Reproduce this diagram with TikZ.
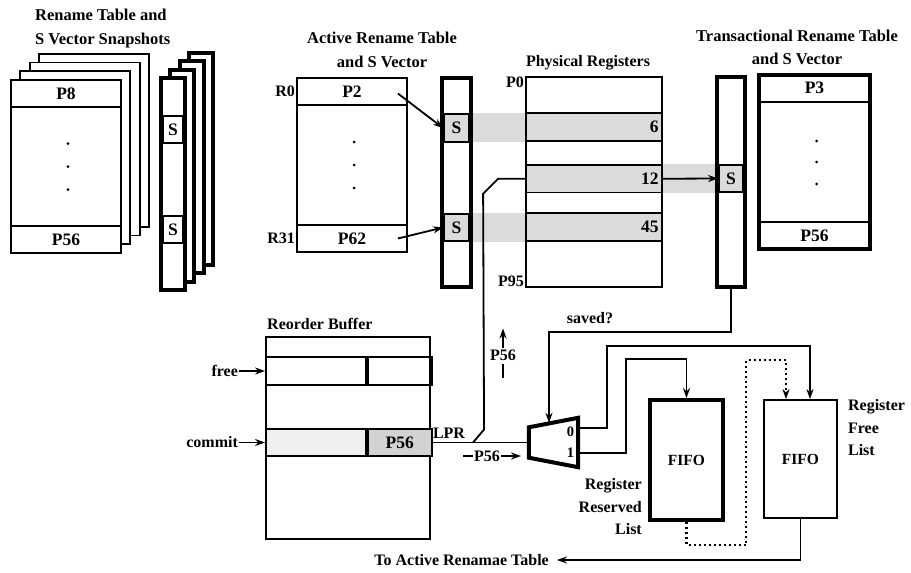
\documentclass[tikz,border=0pt]{standalone}
\usepackage{fontspec}
\setmainfont{Liberation Serif}
\usetikzlibrary{positioning,arrows.meta,backgrounds,calc}
\tikzset{
  lbl/.style={font=\bfseries\fontsize{16}{19}\selectfont, inner sep=1pt},
  ttl/.style={font=\bfseries\fontsize{16.5}{23.5}\selectfont, align=center, inner sep=0pt},
  tbl/.style={rectangle, draw, line width=1.8pt, fill=white, inner sep=0pt,
              minimum width=110pt, minimum height=173pt},
  rowc/.style={rectangle, draw, line width=1.8pt, inner sep=0pt, minimum width=110pt,
               minimum height=27pt, font=\bfseries\fontsize{17.5}{20}\selectfont},
  svec/.style={rectangle, draw, line width=4pt, fill=white, inner sep=0pt,
               minimum width=29pt, minimum height=209pt},
  scell/.style={rectangle, draw, line width=1.8pt, fill=white, inner sep=0pt,
                minimum width=25pt, minimum height=27.5pt, font=\bfseries\fontsize{17.5}{20}\selectfont},
  prow/.style={rectangle, draw, line width=1.8pt, fill=gray!28, inner sep=0pt, minimum width=136pt,
               minimum height=27.5pt, text width=129pt, align=right, font=\bfseries\fontsize{17.5}{20}\selectfont},
  fifo/.style={rectangle, draw, line width=1.8pt, fill=white, minimum width=73pt,
               minimum height=119pt, font=\bfseries\fontsize{15.5}{18}\selectfont},
  band/.style={fill=gray!28},
  wire/.style={line width=1.8pt},
  flow/.style={wire, -{Stealth[length=10pt, width=7pt]}},
  dotw/.style={line width=2.2pt, dash pattern=on 2pt off 3pt, -{Stealth[length=10pt, width=7pt]}}
}
\begin{document}
\begin{tikzpicture}[x=1pt, y=-1pt]
\useasboundingbox (0,0) rectangle (911,573);
% snapshots
\node[ttl, align=left, anchor=west] (tsn) at (35,28.5) {Rename Table and\\S Vector Snapshots};
\foreach \i in {3,2,1}
  \node[tbl] (sn\i) at ($(66,166.5)+(9.3*\i,-8.8*\i)$) {};
\node[tbl] (sn) at (66,166.5) {};
\node[rowc, anchor=north] (sn8) at (sn.north) {P8};
\node[rowc, anchor=south] (sn56) at (sn.south) {P56};
\foreach \d in {-23,0,23} \fill ($(sn.center)+(2,\d)$) circle (1.5pt);
\foreach \i in {3,2,1}
  \node[svec, minimum width=24pt, minimum height=212pt] (ss\i) at ($(173,184)+(9.3*\i,-8.3*\i)$) {};
\node[svec, minimum width=24pt, minimum height=212pt] (ss) at (173,184) {};
\node[scell, minimum width=20pt] (ssa) at (173,129.5) {S};
\node[scell, minimum width=20pt] (ssb) at (173,229.5) {S};
% active rename table
\node[ttl] (tat) at (382,50) {Active Rename Table\\and S Vector};
\node[tbl, minimum height=174pt] (at) at (352,165) {};
\node[rowc, anchor=north] (at0) at (at.north) {P2};
\node[rowc, anchor=south] (at31) at (at.south) {P62};
\foreach \d in {-23,0,23} \fill ($(at.center)+(2,\d)$) circle (1.5pt);
\node[lbl, anchor=east] (r0) at (at0.west) {R0};
\node[lbl, anchor=east] (r31) at (at31.west) {R31};
\node[svec] (sa) at (456.5,182.5) {};
\node[scell, fill=gray!28] (sa1) at (456.5,128) {S};
\node[scell, fill=gray!28] (sa2) at (456.5,227.5) {S};
% physical registers
\node[lbl] (tpr) at (588,63) {Physical Registers};
\node[tbl, minimum width=136pt, minimum height=210pt] (preg) at (594,182) {};
\node[prow, anchor=north, minimum height=28pt] (r6) at ($(preg.north)+(0,36)$) {6};
\node[prow, anchor=north] (r12) at ($(preg.north)+(0,88)$) {12};
\node[prow, anchor=north, minimum height=28pt] (r45) at ($(preg.north)+(0,136)$) {45};
\node[lbl, anchor=north east] (p0) at (preg.north west) {P0};
\node[lbl, anchor=south east] (p95) at (preg.south west) {P95};
% transactional table
\node[ttl] (ttt) at (797,47.5) {Transactional Rename Table\\and S Vector};
\node[svec, minimum width=28pt, minimum height=210pt] (st) at (731,182) {};
\node[scell, fill=gray!28, minimum width=24pt, minimum height=27pt] (st1) at (731,178.5) {S};
\node[tbl, line width=4pt, minimum width=111pt, minimum height=174pt] (tt) at (814.5,162) {};
\node[rowc, minimum width=111pt, minimum height=28pt, anchor=north] (tt3) at (tt.north) {P3};
\node[rowc, minimum width=111pt, minimum height=28pt, anchor=south] (tt56) at (tt.south) {P56};
\foreach \d in {-21,0,22} \fill ($(tt.center)+(2,\d)$) circle (1.5pt);
\begin{scope}[on background layer]
\fill[band] (sa1.north east) rectangle (r6.south west);
\fill[band] (sa2.north east) rectangle (r45.south west);
\fill[band] (r12.north east) rectangle (st1.south west);
\end{scope}
\draw[flow] ($(at0.east)+(-10,2)$) -- (sa1.west);
\draw[flow] ($(at31.east)+(-10,0)$) -- (sa2.west);
\draw[flow] (r12.east) -- (st1.west);
% reorder buffer
\node[lbl, anchor=west] (trb) at (266,324) {Reorder Buffer};
\node[tbl, minimum width=164pt, minimum height=202pt] (rb) at (348,438) {};
\node[rowc, minimum width=100pt, minimum height=28pt, anchor=north west] (f1) at ($(rb.north west)+(0,20)$) {};
\node[rowc, minimum width=64pt, minimum height=28pt, anchor=west] (f2) at (f1.east) {};
\node[rowc, minimum width=100pt, fill=gray!12, anchor=north west] (c1) at ($(rb.north west)+(0,92)$) {};
\node[rowc, minimum width=64pt, fill=gray!35, anchor=west] (c2) at (c1.east) {P56};
\node[lbl, anchor=east] (fr) at ($(f1.west)+(-26,0)$) {free};
\node[lbl, anchor=east] (cm) at ($(c1.west)+(-26,0)$) {commit};
\draw[flow] (fr) -- (f1);
\draw[flow] (cm) -- (c1);
% mux
\node[inner sep=0pt, minimum width=49pt, minimum height=49pt] (mux) at (553.5,442.5) {};
\draw[line width=4pt, line join=miter] ($(mux.north west)+(0,9.5)$) -- (mux.north east)
  -- (mux.south east) -- ($(mux.south west)+(0,-9.5)$) -- cycle;
\node[lbl, font=\bfseries\fontsize{14.5}{16}\selectfont, anchor=east] (m0) at ($(mux.east)+(-3,-11)$) {0};
\node[lbl, font=\bfseries\fontsize{14.5}{16}\selectfont, anchor=east] (m1) at ($(mux.east)+(-3,10.5)$) {1};
\node[lbl] (lpr) at (449,433) {LPR};
\coordinate (br) at ($(c2.east)!0.42!(mux.west)$);
\draw[wire] (c2.east) -- (mux.west);
\draw[wire] (br) -- ++(11,-13) -- ($(r12.west)+(-42,15)$) -- ($(r12.west)+(-27,0)$) -- (r12.west);
\node[lbl] (pu) at (503,355) {P56};
\draw[flow] (pu.north) -- ++(0,-20);
\draw[wire] ($(pu.south)+(0,2)$) -- ++(0,14);
\node[lbl] (pr) at (487,456) {P56};
\draw[wire] (pr.west) -- ++(-10,0);
\draw[flow] (pr.east) -- ++(20,0);
\node[lbl] (sv) at (590,318) {saved?};
\draw[flow] (st.south) -- ++(0,43) -| ($(mux.north)+(-4.5,5)$);
% free lists
\node[fifo, line width=4pt, minimum height=120pt] (rr) at (686.5,460) {FIFO};
\node[fifo, minimum height=118pt] (ff) at (800.5,459) {FIFO};
\node[lbl, font=\bfseries\fontsize{16}{22.5}\selectfont, align=right, anchor=east] (lrr) at ($(rr.west)+(-5,47)$) {Register\\Reserved\\List};
\node[lbl, font=\bfseries\fontsize{16}{22.5}\selectfont, align=left, anchor=west] (lff) at ($(ff.east)+(9,-31)$) {Register\\Free\\List};
\draw[flow] ($(mux.east)+(0,-14.5)$) -- ++(29,0) |- ($(ff.north)+(9.5,-53)$) -- ($(ff.north)+(9.5,0)$);
\draw[flow] ($(mux.east)+(0,10.5)$) -- ++(48,0) |- ($(rr.north)+(0,-39)$) -- (rr.north);
\draw[dotw] (rr.south) -- ++(0,23) -| ($(ff.north)+(-54.5,-39)$) -| ($(ff.north)+(-14.5,0)$);
\node[lbl, inner xsep=8pt, anchor=east] (ta) at (557,560) {To Active Renamae Table};
\draw[flow] (ff.south) |- (ta.east);
\end{tikzpicture}
\end{document}
